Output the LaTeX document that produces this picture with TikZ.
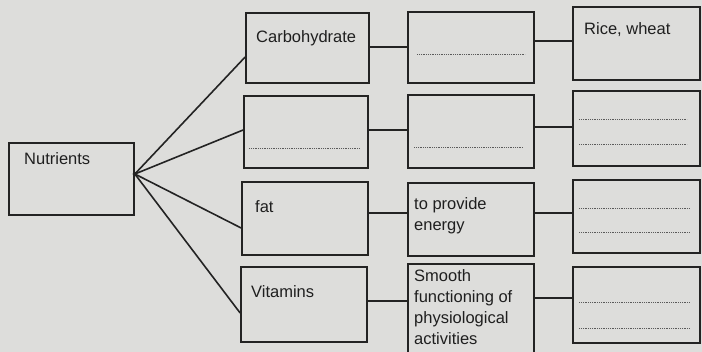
\documentclass[tikz,border=0pt]{standalone}
\usepackage{fontspec}
\setmainfont{Liberation Sans}
\usetikzlibrary{calc}
\definecolor{paper}{RGB}{221,221,219}
\definecolor{ink}{RGB}{35,35,35}
\definecolor{dotink}{RGB}{90,90,90}
\begin{document}
\begin{tikzpicture}[x=1pt,y=-1pt,
  box/.style={draw=ink,line width=1.7pt,rectangle,inner sep=0pt},
  conn/.style={draw=ink,line width=1.6pt},
  fill in/.style={draw=dotink,line width=0.9pt,dash pattern=on 1pt off 0.8pt},
  lbl/.style={anchor=base west,inner sep=0pt,text=black!88,font=\fontsize{16.5}{21}\selectfont}]
\useasboundingbox (0,0) rectangle (702,352);
\fill[paper] (0,0) rectangle (702,352);
\clip (0,0) rectangle (702,352);
% boxes
\node[box,minimum width=125pt,minimum height=72pt] (nut) at (71.5,179) {};
\node[box,minimum width=123pt,minimum height=70pt] (c1r1) at (307.5,48) {};
\node[box,minimum width=124pt,minimum height=72pt] (c1r2) at (306,132) {};
\node[box,minimum width=126pt,minimum height=73pt] (c1r3) at (305,218.5) {};
\node[box,minimum width=126pt,minimum height=75pt] (c1r4) at (304,304.5) {};
\node[box,minimum width=126pt,minimum height=71pt] (c2r1) at (471,47.5) {};
\node[box,minimum width=126pt,minimum height=73pt] (c2r2) at (471,131.5) {};
\node[box,minimum width=126pt,minimum height=73pt] (c2r3) at (471,219.5) {};
\node[box,minimum width=126pt,minimum height=96pt] (c2r4) at (471,312) {};
\node[box,minimum width=127pt,minimum height=73pt] (c3r1) at (636.5,43.5) {};
\node[box,minimum width=127pt,minimum height=75pt] (c3r2) at (636.5,128.5) {};
\node[box,minimum width=127pt,minimum height=73pt] (c3r3) at (636.5,216.5) {};
\node[box,minimum width=127pt,minimum height=76pt] (c3r4) at (636.5,305) {};
% hub
\coordinate (hub) at ([yshift=5pt]nut.east);
\fill[ink] (hub) circle (2.2pt);
% connectors from hub
\draw[conn] (hub) -- ([yshift=-9pt]c1r1.west);
\draw[conn] (hub) -- ([yshift=2pt]c1r2.west);
\draw[conn] (hub) -- ([yshift=-9.5pt]c1r3.west);
\draw[conn] (hub) -- ([yshift=-8.5pt]c1r4.west);
% column 1 to column 2
\draw[conn] ([yshift=1pt]c1r1.east) -- ([yshift=0.5pt]c2r1.west);
\draw[conn] ([yshift=2pt]c1r2.east) -- ([yshift=1.5pt]c2r2.west);
\draw[conn] ([yshift=5.5pt]c1r3.east) -- ([yshift=6.5pt]c2r3.west);
\draw[conn] ([yshift=3.5pt]c1r4.east) -- ([yshift=11pt]c2r4.west);
% column 2 to column 3
\draw[conn] ([yshift=6.5pt]c2r1.east) -- ([yshift=2.5pt]c3r1.west);
\draw[conn] ([yshift=4.5pt]c2r2.east) -- ([yshift=1.5pt]c3r2.west);
\draw[conn] ([yshift=6.5pt]c2r3.east) -- ([yshift=3.5pt]c3r3.west);
\draw[conn] ([yshift=14pt]c2r4.east) -- ([yshift=7pt]c3r4.west);
% fill-in dotted lines
\draw[fill in] ($(c1r2.west)+(6,16)$) -- ($(c1r2.west)+(116,16)$);
\draw[fill in] ($(c2r1.west)+(10,6.5)$) -- ($(c2r1.west)+(118,6.5)$);
\draw[fill in] ($(c2r2.west)+(7,15.5)$) -- ($(c2r2.west)+(116,15.5)$);
\draw[fill in] ($(c3r2.west)+(7,-9.5)$) -- ($(c3r2.west)+(115,-9.5)$);
\draw[fill in] ($(c3r2.west)+(7,15.5)$) -- ($(c3r2.west)+(115,15.5)$);
\draw[fill in] ($(c3r3.west)+(7,-8.5)$) -- ($(c3r3.west)+(117,-8.5)$);
\draw[fill in] ($(c3r3.west)+(7,15.5)$) -- ($(c3r3.west)+(117,15.5)$);
\draw[fill in] ($(c3r4.west)+(7,-3)$) -- ($(c3r4.west)+(117,-3)$);
\draw[fill in] ($(c3r4.west)+(7,23)$) -- ($(c3r4.west)+(117,23)$);
% labels
\node[lbl] (tnut) at (24,165) {Nutrients};
\node[lbl] (tcarb) at (256,43) {Carbohydrate};
\node[lbl] (trice) at (584,35) {Rice, wheat};
\node[lbl] (tfat) at (255,213) {fat};
\node[lbl] (tvit) at (251,298) {Vitamins};
\node[lbl] (tprov1) at (414,210) {to provide};
\node[lbl] (tprov2) at (414,231) {energy};
\node[lbl] (tsm1) at (414,282) {Smooth};
\node[lbl] (tsm2) at (414,303) {functioning of};
\node[lbl] (tsm3) at (414,324) {physiological};
\node[lbl] (tsm4) at (414,345) {activities};
\end{tikzpicture}
\end{document}
